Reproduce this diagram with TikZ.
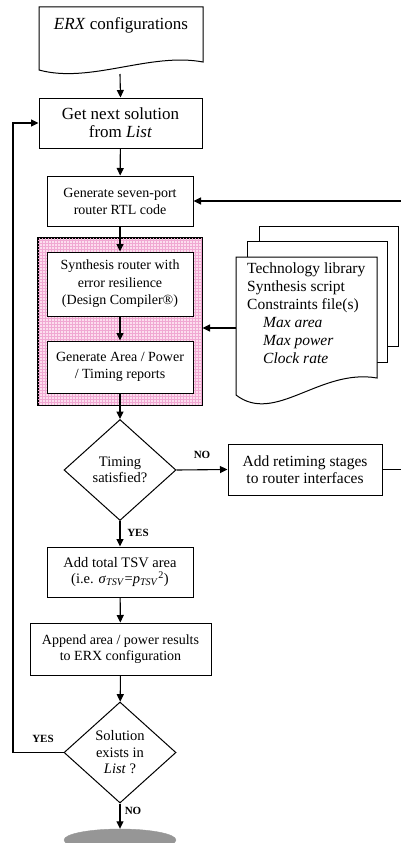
\documentclass[tikz,border=0pt]{standalone}
\usepackage{fontspec}
\setmainfont{Liberation Serif}
\usetikzlibrary{shapes.geometric,arrows.meta}
\definecolor{pinkbg}{RGB}{252,222,238}
\definecolor{pinkln}{RGB}{240,168,210}
\definecolor{endgray}{RGB}{150,150,150}
\begin{document}
\begin{tikzpicture}[x=1pt,y=-1pt,
  box/.style={draw,line width=1pt,fill=white,inner sep=0pt,align=center},
  dec/.style={draw,diamond,line width=1pt,fill=white,inner sep=0pt,align=center,minimum width=112pt,minimum height=101pt},
  arr/.style={line width=1.1pt,-{Triangle[length=7.5pt,width=7pt]}},
  ln/.style={line width=1pt},
  lbl/.style={font=\fontsize{11}{12}\selectfont\bfseries,inner sep=0pt}]
\useasboundingbox (0,0) rectangle (401,843);
% ERX document
\draw[ln,fill=white] (39,70) -- (39,7) -- (203,7) -- (203,62) .. controls (150,52) and (90,84) .. (39,70) -- cycle;
\node[font=\fontsize{17}{18}\selectfont,inner sep=0pt] (erx) at (121,25) {\textit{ERX} configurations};
\coordinate (erxb) at (120,74);
% boxes
\node[box,minimum width=163pt,minimum height=50pt,font=\fontsize{17}{18}\selectfont] (get) at (120.5,123) {Get next solution\\from \textit{List}};
\node[box,minimum width=146pt,minimum height=50pt,font=\fontsize{14}{17}\selectfont] (gen) at (120,201) {Generate seven-port\\router RTL code};
\node[draw,line width=1pt,fill=pinkbg,minimum width=164pt,minimum height=167pt,inner sep=0pt] (pink) at (120,321.5) {};
\draw[pinkln,line width=0.4pt,step=3pt] (38,238) grid (202,405);
\draw[ln] (pink.north west) rectangle (pink.south east);
\node[box,minimum width=146pt,minimum height=64pt,font=\fontsize{14}{17.5}\selectfont] (syn) at (120,284) {Synthesis router with\\error resilience\\(Design Compiler®)};
\node[box,minimum width=146pt,minimum height=52pt,font=\fontsize{14}{17}\selectfont] (rep) at (120,367) {Generate Area / Power\\/ Timing reports};
\node[dec,font=\fontsize{14.5}{16}\selectfont] (tim) at (120,470) {Timing\\satisfied?};
\node[box,minimum width=154pt,minimum height=51pt,font=\fontsize{15.5}{17}\selectfont] (ret) at (305,469.5) {Add retiming stages\\to router interfaces};
\node[box,minimum width=146pt,minimum height=50pt,font=\fontsize{14.5}{15.5}\selectfont] (tsv) at (120,572) {Add total TSV area\\(i.e. \textit{σ}\textsubscript{\textit{TSV}}=\textit{p}\textsubscript{\textit{TSV}}\textsuperscript{2})};
\node[box,minimum width=181pt,minimum height=52pt,font=\fontsize{14}{15.5}\selectfont] (app) at (120.5,649) {Append area / power results\\to ERX configuration};
\node[dec,font=\fontsize{14.5}{16.5}\selectfont] (sol) at (120,752.5) {Solution\\exists in\\\textit{List} ?};
\node[ellipse,draw=endgray,fill=endgray,minimum width=112pt,minimum height=22pt,inner sep=0pt] (end) at (120,840) {};
% document stack
\draw[ln,fill=white] (259,241) -- (259,226) -- (398,226) -- (398,346) -- (387,346);
\draw[ln,fill=white] (247,257) -- (247,241) -- (387,241) -- (387,362) -- (377,362);
\draw[ln,fill=white] (236,395) -- (236,257) -- (377,257) -- (377,378) .. controls (320,368) and (275,425) .. (236,395) -- cycle;
\node[anchor=north west,inner sep=0pt,align=left,font=\fontsize{15.5}{18}\selectfont] (stktext) at (247,263) {Technology library\\Synthesis script\\Constraints file(s)\\\hspace*{16pt}\textit{Max area}\\\hspace*{16pt}\textit{Max power}\\\hspace*{16pt}\textit{Clock rate}};
\coordinate (stk) at (236,328);
% connectors
\draw[arr] (erxb) -- (get.north);
\draw[arr] (get) -- (gen);
\draw[arr] (gen) -- (syn);
\draw[arr] (syn) -- (rep);
\draw[arr] (rep.south) -- (tim.north);
\draw[arr] (stk) -- (pink.east |- stk);
\draw[arr] (tim.east) -- (ret.west);
\node[lbl] (no1) at (202,455) {NO};
\draw[arr] (tim.south) -- (tsv.north);
\node[lbl] (yes1) at (138,533) {YES};
\draw[arr] (tsv) -- (app);
\draw[arr] (app) -- (sol);
\draw[arr] (sol.south) -- (end.north);
\node[lbl] (no2) at (133,811) {NO};
\coordinate (rc) at (402.5,469.5);
\draw[arr] (ret.east) -- (rc) |- (gen.east);
\coordinate (lc) at (13,752.5);
\draw[arr] (sol.west) -- (lc) |- (get.west);
\node[lbl] (yes2) at (43,739) {YES};
\end{tikzpicture}
\end{document}
